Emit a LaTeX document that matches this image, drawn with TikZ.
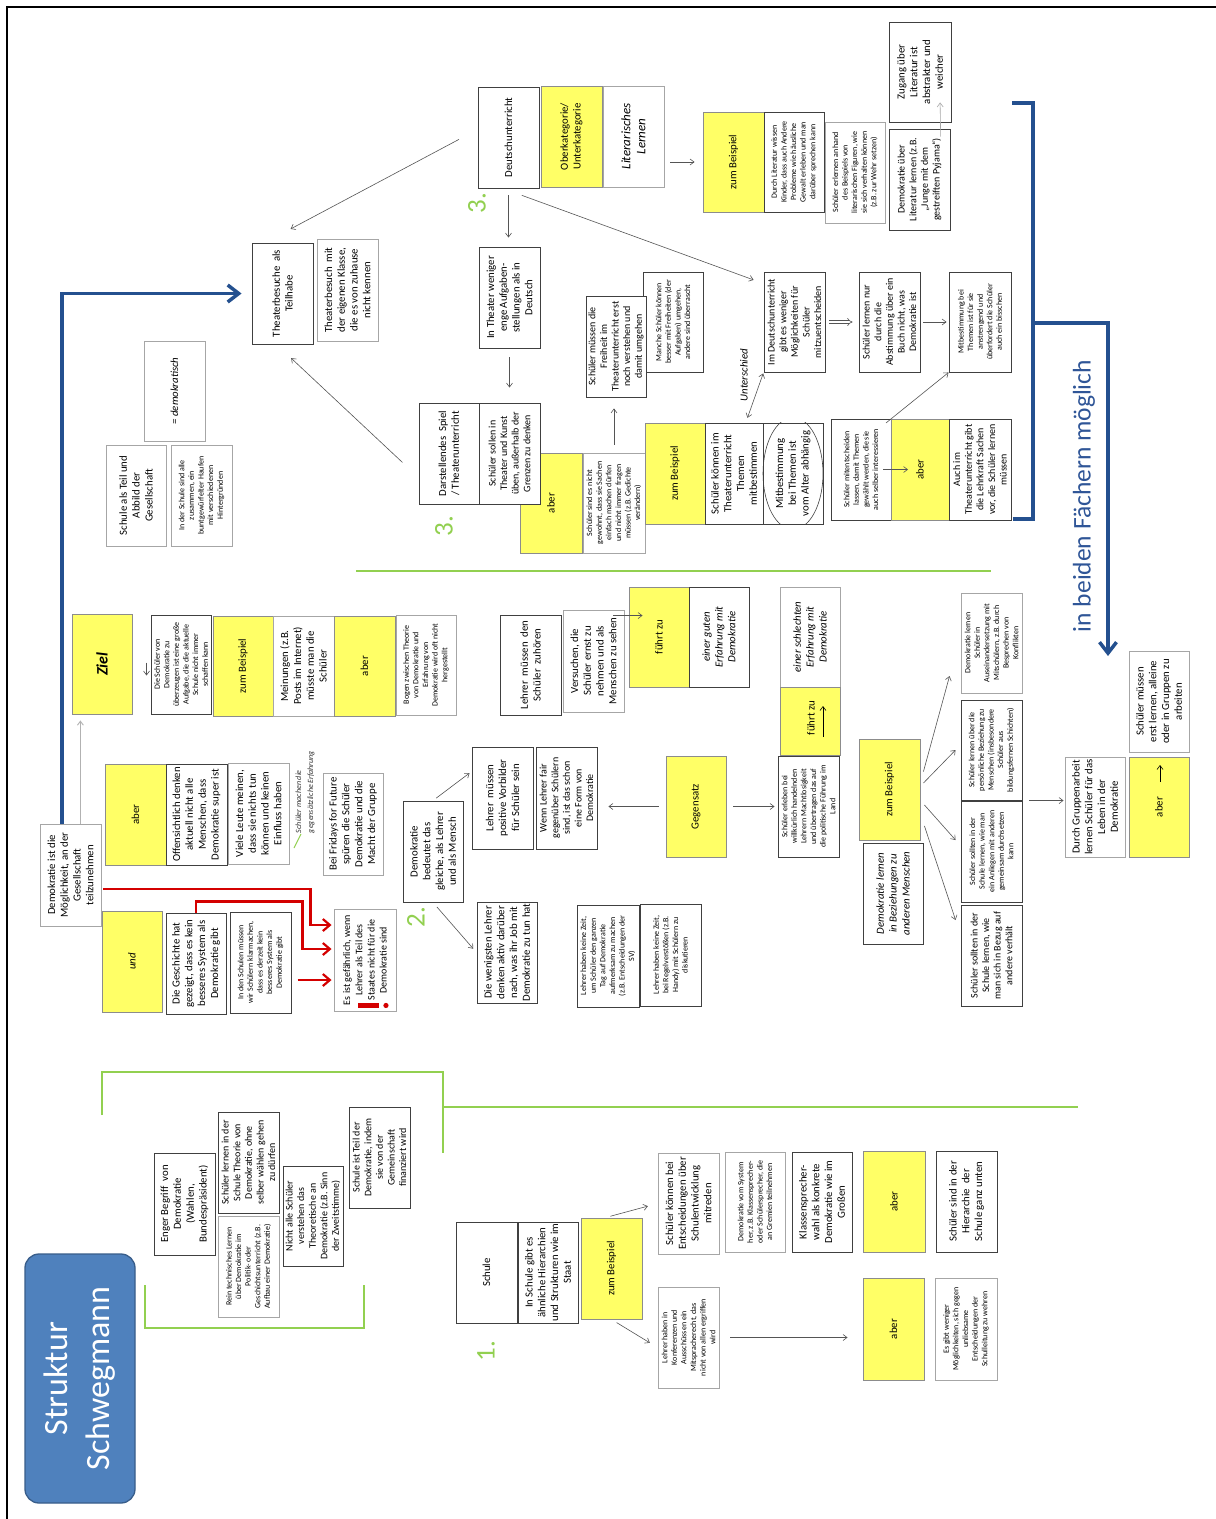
\documentclass[tikz,border=0pt]{standalone}
\usepackage{fontspec}
\setmainfont{Carlito}
\usetikzlibrary{arrows.meta,calc}

\definecolor{hl}{HTML}{FFFF66}
\definecolor{bdark}{HTML}{404040}
\definecolor{blight}{HTML}{A6A6A6}
\definecolor{ybord}{HTML}{8C8C8C}
\definecolor{arr}{HTML}{555555}
\definecolor{gr}{HTML}{92D050}
\definecolor{dblue}{HTML}{24508F}
\definecolor{tblue}{HTML}{2F5597}
\definecolor{sblue}{HTML}{4F81BD}
\definecolor{sbord}{HTML}{385D8A}
\definecolor{rd}{HTML}{D40000}

\newcommand\fzN{\fontsize{10.8}{12.8}\selectfont}
\newcommand\fzM{\fontsize{10}{11.6}\selectfont}
\newcommand\fzS{\fontsize{8}{9.6}\selectfont}
\newcommand\fzL{\fontsize{13}{15}\selectfont}

% rotated box: name, x1, y1, x2, y2 (picture pixels), style, text
\newcommand\bx[7]{\node[#6,minimum width={(#5-#3)*1pt},minimum height={(#4-#2)*1pt}] (#1) at ({(#2+#4)/2},{(#3+#5)/2}) {#7};}

\tikzset{
  boxbase/.style={rotate=90, align=center, inner sep=1pt, line width=0.9pt, font=\fzN, text=black},
  wd/.style={boxbase, draw=bdark, fill=white},
  wl/.style={boxbase, draw=blight, fill=white},
  yb/.style={boxbase, draw=ybord, fill=hl},
  garr/.style={draw=arr, line width=0.6pt, -{Straight Barb[length=4pt,width=6pt]}},
  garrtwo/.style={draw=arr, line width=0.6pt, {Straight Barb[length=4pt,width=6pt]}-{Straight Barb[length=4pt,width=6pt]}},
  rar/.style={draw=rd, line width=2.2pt, line join=miter, -{Straight Barb[length=7pt,width=12pt]}},
  blar/.style={draw=dblue, line width=3.5pt, line join=miter, -{Straight Barb[length=11pt,width=17pt]}},
  gln/.style={draw=gr, line width=2pt},
  numlbl/.style={rotate=90, text=gr, font=\fontsize{27}{30}\selectfont},
}

\begin{document}
\begin{tikzpicture}[x=1pt,y=-1pt]
\useasboundingbox (0,0) rectangle (1216,1519);
\fill[white] (0,0) rectangle (1216,1519);

% frame
\draw[black, line width=2.2pt] (7,1519) -- (7,7) -- (1216,7);

% ---------- upper left ----------
\bx{tb}{252}{243}{313}{344}{wd}{Theaterbesuche\ \ als\\Teilhabe}
\bx{tbk}{317}{239}{378}{341}{wl}{Theaterbesuch\ \ mit\\der eigenen Klasse,\\die es von zuhause\\nicht kennen}
\bx{demk}{144}{341}{205}{441}{wl, font=\fzN\itshape}{= demokratisch}
\bx{sab}{106}{445}{166}{546}{wl}{Schule als Teil und\\Abbild der\\Gesellschaft}
\bx{sbunt}{171}{445}{232}{546}{wl, font=\fzS}{In der Schule sind alle\\zusammen, ein\\buntgewürfelter Haufen\\mit verschiedenen\\Hintergründen}

% ---------- Ziel row ----------
\bx{ziel}{72}{614}{132}{714}{yb, font=\fontsize{16}{18}\selectfont\bfseries\itshape}{Ziel}
\bx{zielt}{151}{615}{211}{714}{wd, font=\fzS}{Die Schüler von\\Demokratie zu\\überzeugen ist eine große\\Aufgabe, die die aktuelle\\Schule nicht immer\\schaffen kann}
\bx{zb1}{213}{616}{273}{716}{yb}{zum Beispiel}
\bx{mein}{273}{616}{334}{716}{wl}{Meinungen (z.B.\\Posts im Internet)\\müsste man die\\Schüler}
\bx{ab1}{334}{616}{395}{716}{yb}{aber}
\bx{bogen}{396}{615}{456}{715}{wl, font=\fzS}{Bogen zwischen Theorie\\von Demokratie und\\Erfahrung von\\Demokratie wird oft nicht\\hergestellt}

% ---------- Theater ----------
\bx{ab2}{520}{453}{582}{553}{yb}{aber}
\bx{dsp}{419}{403}{479}{504}{wd}{Darstellendes\ \ Spiel\\/ Theaterunterricht}
\bx{sollen}{479}{403}{540}{504}{wd, font=\fzM}{Schüler sollen in\\Theater und Kunst\\üben, außerhalb der\\Grenzen zu denken}
\bx{gewohnt}{583}{453}{645}{553}{wl, font=\fzS}{Schüler sind es nicht\\gewohnt, dass sie Sachen\\einfach machen dürfen\\und nicht immer fragen\\müssen (z.B. Gedichte\\verändern)}
\bx{zb2}{645}{423}{705}{524}{yb}{zum Beispiel}
\bx{mitb}{705}{423}{763}{524}{wd}{Schüler können im\\Theaterunterricht\\Themen\\mitbestimmen}
\bx{alter}{763}{423}{823}{524}{wd}{Mitbestimmung\\bei Themen ist\\vom Alter abhängig}
\begin{scope}
  \clip (alter.north west) rectangle (alter.south east);
  \draw[line width=0.6pt, draw=bdark] (alter.center) ellipse [x radius=30, y radius=56];
\end{scope}
\bx{lassen}{831}{419}{891}{520}{wd, font=\fzS}{Schüler mitentscheiden\\lassen, damit Themen\\gewählt werden, die sie\\auch selber interessieren}
\bx{ab3}{891}{419}{949}{520}{yb}{aber}
\bx{auch}{949}{419}{1011}{520}{wd, font=\fzM}{Auch im\\Theaterunterricht gibt\\die Lehrkraft Sachen\\vor, die Schüler lernen\\müssen}

% ---------- Deutschunterricht ----------
\bx{deu}{478}{87}{539}{188}{wd}{Deutschunterricht}
\bx{ober}{541}{86}{602}{187}{yb}{Oberkategorie/\\Unterkategorie}
\bx{lit}{603}{86}{664}{187}{wl, font=\fzL\itshape}{Literarisches\\Lernen}
\bx{zb3}{703}{112}{764}{212}{yb}{zum Beispiel}
\bx{durch}{764}{112}{824}{212}{wd, font=\fzS}{Durch Literatur wissen\\Kinder, dass auch Andere\\Probleme wie häusliche\\Gewalt erleben und man\\darüber sprechen kann}
\bx{figur}{825}{122}{885}{223}{wl, font=\fzS}{Schüler erlernen anhand\\des Beispiels von\\literarischen Figuren, wie\\sie sich verhalten können\\(z.B. zur Wehr setzen)}
\bx{zug}{889}{22}{951}{122}{wd}{Zugang über\\Literatur ist\\abstrakter und\\weicher}
\bx{pyj}{889}{129}{950}{230}{wd, font=\fzM}{Demokratie über\\Literatur lernen (z.B.\\„Junge mit dem\\gestreiften Pyjama“)}
\bx{weniger}{479}{247}{540}{348}{wd}{In Theater weniger\\enge Aufgaben-\\stellungen als in\\Deutsch}
\bx{manche}{643}{272}{703}{372}{wd, font=\fzS}{Manche Schüler können\\besser mit Freiheiten (der\\Aufgaben) umgehen,\\andere sind überrascht}
\bx{frei}{586}{296}{646}{397}{wd, font=\fzM}{Schüler müssen die\\Freiheit im\\Theaterunterricht erst\\noch verstehen und\\damit umgehen}
\bx{imdeu}{764}{272}{825}{372}{wd, font=\fzM}{Im Deutschunterricht\\gibt es weniger\\Möglichkeiten für\\Schüler\\mitzuentscheiden}
\bx{nur}{859}{272}{920}{372}{wd, font=\fzM}{Schüler lernen nur\\durch die\\Abstimmung über ein\\Buch nicht, was\\Demokratie ist}
\bx{anstr}{949}{272}{1011}{372}{wd, font=\fzS}{Mitbestimmung bei\\Themen ist für sie\\anstrengend und\\überfordert die Schüler\\auch ein bisschen}

% ---------- middle band ----------
\bx{lzu}{500}{615}{561}{715}{wd}{Lehrer\ \ müssen\ \ den\\Schüler\ \ zuhören}
\bx{vers}{563}{610}{624}{712}{wl}{Versuchen, die\\Schüler ernst zu\\nehmen und als\\Menschen zu sehen}
\bx{fz1}{629}{587}{689}{687}{yb}{führt zu}
\bx{gut}{689}{587}{749}{687}{wd, font=\fzN\itshape}{einer guten\\Erfahrung mit\\Demokratie}
\bx{schl}{780}{587}{840}{687}{wl, font=\fzN\itshape}{einer schlechten\\Erfahrung mit\\Demokratie}
\bx{fz2}{780}{687}{840}{755}{yb}{}
\node[rotate=90, font=\fzN] (fz2t) at ($(fz2.center)+(1,-3)$) {führt zu};
\bx{willk}{778}{756}{839}{857}{wd, font=\fzS}{Schüler erleben bei\\willkürlich handelnden\\Lehrern Machtlosigkeit\\und übertragen das auf\\die politische Führung im\\Land}

\bx{moeg}{40}{824}{101}{926}{wl}{Demokratie ist die\\Möglichkeit, an der\\Gesellschaft\\teilzunehmen}
\bx{ab4}{105}{764}{166}{865}{yb}{aber}
\bx{offen}{166}{764}{227}{865}{wd}{Offensichtlich denken\\aktuell nicht alle\\Menschen, dass\\Demokratie super ist}
\bx{viele}{228}{763}{289}{864}{wl}{Viele Leute meinen,\\dass sie nichts tun\\können und keinen\\Einfluss haben}
\bx{fff}{323}{773}{383}{875}{wl}{Bei Fridays for Future\\spüren die Schüler\\Demokratie und die\\Macht der Gruppe}
\bx{und}{102}{911}{162}{1012}{yb, font=\fzN\itshape}{und}
\bx{gesch}{166}{913}{226}{1014}{wd}{Die Geschichte hat\\gezeigt, dass es kein\\besseres System als\\Demokratie gibt}
\bx{klar}{230}{912}{291}{1013}{wd, font=\fzS}{In den Schulen müssen\\wir Schülern klarmachen,\\dass es derzeit kein\\besseres System als\\Demokratie gibt}
\bx{gef}{334}{909}{396}{1011}{wl, font=\fontsize{10}{12.2}\selectfont}{Es ist gefährlich, wenn\\Lehrer als Teil des\\Staates nicht für die\\Demokratie sind}

\node[rotate=90, align=left, font=\fontsize{8}{12}\selectfont\itshape, text=black!80] (note) at (305,792) {Schüler machen die\\gegensätzliche Erfahrung};
\draw[gr, line width=1pt] (294,848) -- (301,834);

\bx{gleich}{403}{801}{463}{902}{wd}{Demokratie\\bedeutet das\\gleiche, als Lehrer\\und als Mensch}
\bx{vorb}{472}{747}{533}{849}{wd}{Lehrer\ \ müssen\\positive Vorbilder\\für Schüler sein}
\bx{fair}{536}{747}{597}{849}{wd, font=\fzM}{Wenn Lehrer fair\\gegenüber Schülern\\sind, ist das schon\\eine Form von\\Demokratie}
\bx{wenig}{477}{902}{537}{1003}{wd}{Die wenigsten Lehrer\\denken aktiv darüber\\nach, was ihr Job mit\\Demokratie zu tun hat}
\bx{geg}{666}{756}{726}{857}{yb}{Gegensatz}
\bx{zeit1}{577}{905}{639}{1007}{wd, font=\fzS}{Lehrer haben keine Zeit,\\um Schüler den ganzen\\Tag auf Demokratie\\aufmerksam zu machen\\(z.B. Entscheidungen der\\SV)}
\bx{zeit2}{640}{904}{701}{1006}{wd, font=\fzS}{Lehrer haben keine Zeit,\\bei Regelverstößen (z.B.\\Handy) mit Schülern zu\\diskutieren}

\bx{zb4}{859}{739}{920}{840}{yb}{zum Beispiel}
\bx{bez}{863}{843}{923}{944}{wd, font=\fzN\itshape}{Demokratie lernen\\in Beziehungen zu\\anderen Menschen}
\bx{konf}{961}{593}{1022}{693}{wl, font=\fzS}{Demokratie lernen\\Schüler in\\Auseinandersetzung mit\\Mitschülern, z.B. durch\\Besprechen von\\Konflikten}
\bx{pers}{961}{700}{1022}{800}{wd, font=\fzS}{Schüler lernen über die\\persönliche Beziehung zu\\Menschen (insbesondere\\Schüler aus\\bildungsfernen Schichten)}
\bx{anl}{961}{801}{1022}{902}{wd, font=\fzS}{Schüler sollten in der\\Schule lernen, wie man\\ein Anliegen mit anderen\\gemeinsam durchsetzen\\kann}
\bx{verh}{961}{905}{1022}{1006}{wd, font=\fzM}{Schüler sollten in der\\Schule lernen, wie\\man sich in Bezug auf\\andere verhält}
\bx{grp}{1065}{757}{1125}{857}{wl}{Durch Gruppenarbeit\\lernen Schüler für das\\Leben in der\\Demokratie}
\bx{ab5}{1129}{757}{1189}{857}{yb}{aber}
\bx{allein}{1129}{651}{1189}{752}{wl}{Schüler müssen\\erst lernen, alleine\\oder in Gruppen zu\\arbeiten}

% ---------- lower part ----------
\bx{eng}{154}{1153}{215}{1255}{wd}{Enger Begriff\ \ von\\Demokratie\\(Wahlen,\\Bundespräsident)}
\bx{theo}{218}{1112}{279}{1213}{wd, font=\fzM}{Schüler lernen in der\\Schule Theorie von\\Demokratie, ohne\\selber wählen gehen\\zu dürfen}
\bx{tech}{218}{1216}{279}{1317}{wl, font=\fzS}{Rein technisches Lernen\\über Demokratie im\\Politik- oder\\Geschichtsunterricht (z.B.\\Aufbau einer Demokratie)}
\bx{nicht}{283}{1166}{343}{1266}{wd, font=\fzM}{Nicht alle Schüler\\verstehen das\\Theoretische an\\Demokratie (z.B. Sinn\\der Zweitstimme)}
\bx{fin}{349}{1107}{410}{1208}{wd, font=\fzM}{Schule ist Teil der\\Demokratie, indem\\sie von der\\Gemeinschaft\\finanziert wird}
\bx{schule}{456}{1222}{517}{1323}{wd}{Schule}
\bx{hier}{518}{1222}{578}{1323}{wd}{In Schule gibt es\\ähnliche Hierarchien\\und Strukturen wie im\\Staat}
\bx{zb5}{581}{1218}{642}{1319}{yb}{zum Beispiel}
\bx{ent}{658}{1153}{719}{1254}{wl}{Schüler können bei\\Entscheidungen über\\Schulentwicklung\\mitreden}
\bx{gremien}{725}{1152}{785}{1252}{wl, font=\fzS}{Demokratie vom System\\her, z.B. Klassensprecher-\\oder Schülersprecher, die\\an Gremien teilnehmen}
\bx{kls}{792}{1152}{852}{1252}{wd}{Klassensprecher-\\wahl als konkrete\\Demokratie wie im\\Großen}
\bx{konfz}{658}{1287}{719}{1388}{wl, font=\fzS}{Lehrer haben in\\Konferenzen und\\Ausschüssen ein\\Mitspracherecht, das\\nicht von allen ergriffen\\wird}
\bx{ab6}{863}{1151}{925}{1252}{yb}{aber}
\bx{unten}{936}{1151}{997}{1252}{wd}{Schüler sind in der\\Hierarchie\ \ der\\Schule ganz unten}
\bx{ab7}{863}{1278}{924}{1380}{yb}{aber}
\bx{wehr}{935}{1278}{997}{1380}{wl, font=\fzS}{Es gibt weniger\\Möglichkeiten, sich gegen\\unliebsame\\Entscheidungen der\\Schulleitung zu wehren}

% title
\node[rotate=90, rounded corners=14pt, fill=sblue, draw=sbord, line width=1.3pt,
      minimum width=249pt, minimum height=110pt, align=center, text=white,
      font=\fontsize{34}{42}\selectfont] (titel) at (80,1378.5) {Struktur\\Schwegmann};

% section numbers and labels
\node[numlbl] (n3a) at (477,203) {3.};
\node[numlbl] (n3b) at (444,526) {3.};
\node[numlbl] (n2) at (416,917) {2.};
\node[numlbl] (n1) at (486,1351) {1.};
\node[rotate=90, font=\fzN\itshape] (unt) at (744,375) {Unterschied};
\node[rotate=90, text=tblue, font=\fontsize{25.5}{30}\selectfont] (beide) at (1084,496) {in beiden Fächern möglich};

% green separators
\draw[gln] (356,571) -- (991,571);
\draw[gln] (102,1115) -- (102,1072) -- (443,1072) -- (443,1153);
\draw[gln] (443,1107) -- (1078,1107);
\draw[gln] (145,1285) -- (145,1328) -- (364,1328) -- (364,1285);

% blue bracket on the right
\draw[draw=dblue, line width=3.5pt, line join=miter] (1012,103) -- (1033,103) -- (1033,519) -- (1013,519);
\draw[blar] (1033,323) -- (1108,323) -- (1108,656);

% ---------- connectors ----------
\coordinate (mblue) at ($(moeg.north east)!0.36!(moeg.south east)$);
\coordinate (mgray) at ($(moeg.north east)!0.66!(moeg.south east)$);
\draw[blar, shorten >=10pt] (mblue) |- (tb.north);
\draw[draw=gray!60, line width=0.9pt, -{Straight Barb[length=4pt,width=6pt]}, shorten >=6pt] (mgray) -- (mgray |- ziel.west);
\draw[garr] ($(zielt.north)+(-4,-2)$) -- ++(0,13);

\draw[garr, shorten <=21pt, shorten >=29pt] ($(deu.north)+(0,-8)$) -- ($(tb.east)+(-17.5,0)$);
\draw[garr, shorten <=22pt, shorten >=20pt] ($(dsp.north)+(0,24)$) -- ($(tb.west)+(-6,0)$);
\draw[garr, shorten <=7pt, shorten >=9pt] (deu.west) -- (deu.west |- weniger.east);
\draw[garr, shorten <=9pt, shorten >=15pt] (weniger.west) -- (weniger.west |- sollen.east);
\draw[garr, shorten <=20pt, shorten >=10.6pt] ($(deu.west)+(-5.5,0)$) -- ($(imdeu.north east)+(0,12)$);
\draw[garr, shorten <=6pt, shorten >=8pt] (zb3.north -| lit.south) -- (zb3.north);
\draw[draw=gray!70, line width=0.6pt, -{Straight Barb[length=4pt,width=6pt]}, shorten <=-8pt, shorten >=-20pt]
  ($(pyj.north east)!0.84!(pyj.south east)$) -- ($(zug.north west)!0.825!(zug.south west)$);
\draw[draw=arr, line width=0.6pt, double distance=2.2pt, -{Implies}, shorten <=4pt, shorten >=6pt] (imdeu.south) -- (imdeu.south -| nur.north);
\draw[garr, shorten <=3pt, shorten >=2pt] (nur.south) -- (nur.south -| anstr.north);
\draw[garr, shorten <=-7pt] (lassen.south east) -- (anstr.north west);
\draw[garr, shorten <=-8pt, shorten >=12pt] (lassen.south) -- (ab3.center);
\draw[garr, shorten <=8pt, shorten >=11pt] (gewohnt.east) -- (gewohnt.east |- frei.west);
\draw[garrtwo, shorten <=5pt, shorten >=1pt] ($(mitb.north east)!0.7!(mitb.south east)$) -- (imdeu.north west);

\draw[garr] ($(vers.south east)+(-11,6)$) -- ($(fz1.north east)+(14,29)$);
\draw[draw=black, line width=0.6pt, -{Straight Barb[length=4pt,width=6pt]}] ($(fz2.center)+(13,16)$) -- ($(fz2.center)+(13,-15)$);
\draw[draw=black, line width=0.6pt, -{Straight Barb[length=4pt,width=6pt]}] ($(ab5.center)+(1,-25)$) -- ($(ab5.center)+(1,-42)$);

\draw[garr, shorten <=7pt, shorten >=11pt] (geg.north) -- (geg.north -| fair.south);
\draw[garr, shorten <=7pt, shorten >=3pt] (geg.south) -- (geg.south -| willk.north);

\draw[garr] ($(zb4.south)+(3,-18)$) -- ($(konf.north)+(-11,33)$);
\draw[garr] ($(zb4.south)+(3,-6.5)$) -- ($(pers.north)+(-5,0)$);
\draw[garr] ($(zb4.south)+(4,15.5)$) -- ($(anl.north)+(-5,-11.5)$);
\draw[garr] ($(zb4.south)+(4,36.5)$) -- ($(verh.north)+(-5,-35.5)$);
\draw[garr, shorten <=7pt, shorten >=1pt] (anl.south east) -- (anl.south east -| grp.north);

\draw[garr, shorten <=4pt] (gleich.east) -- ($(vorb.north)+(-2,-25)$);
\draw[garr, shorten <=6pt, shorten >=5pt] (gleich.west) -- (wenig.north);

\draw[garr, shorten <=5pt, shorten >=10pt] ($(zb5.east)+(-6,0)$) -- (ent.north);
\draw[garr, shorten <=6pt, shorten >=9pt] (zb5.west) -- ($(konfz.north)+(0,10)$);
\draw[garr, shorten <=11pt, shorten >=15pt] (konfz.south) -- (konfz.south -| ab7.north);

% red arrows and exclamation mark
\draw[rar] ($(moeg.south)+(2,14)$) -| ($(gef.north)+(-23,-35)$) -- ($(gef.north)+(-2,-35)$);
\draw[rar] (gesch.east) -- ++(0,-11) -| ($(gef.north)+(-31,-11)$) -- ($(gef.north)+(-2,-11)$);
\draw[rar] ($(gef.north)+(-36,20)$) -- ($(gef.north)+(-2,20)$);
\draw[rd, line width=4.5pt] ($(gef.south west)+(-38,-6)$) -- ($(gef.south west)+(-17,-6)$);
\fill[rd] ($(gef.south west)+(-10.5,-6)$) circle (2.6);

\end{tikzpicture}
\end{document}
